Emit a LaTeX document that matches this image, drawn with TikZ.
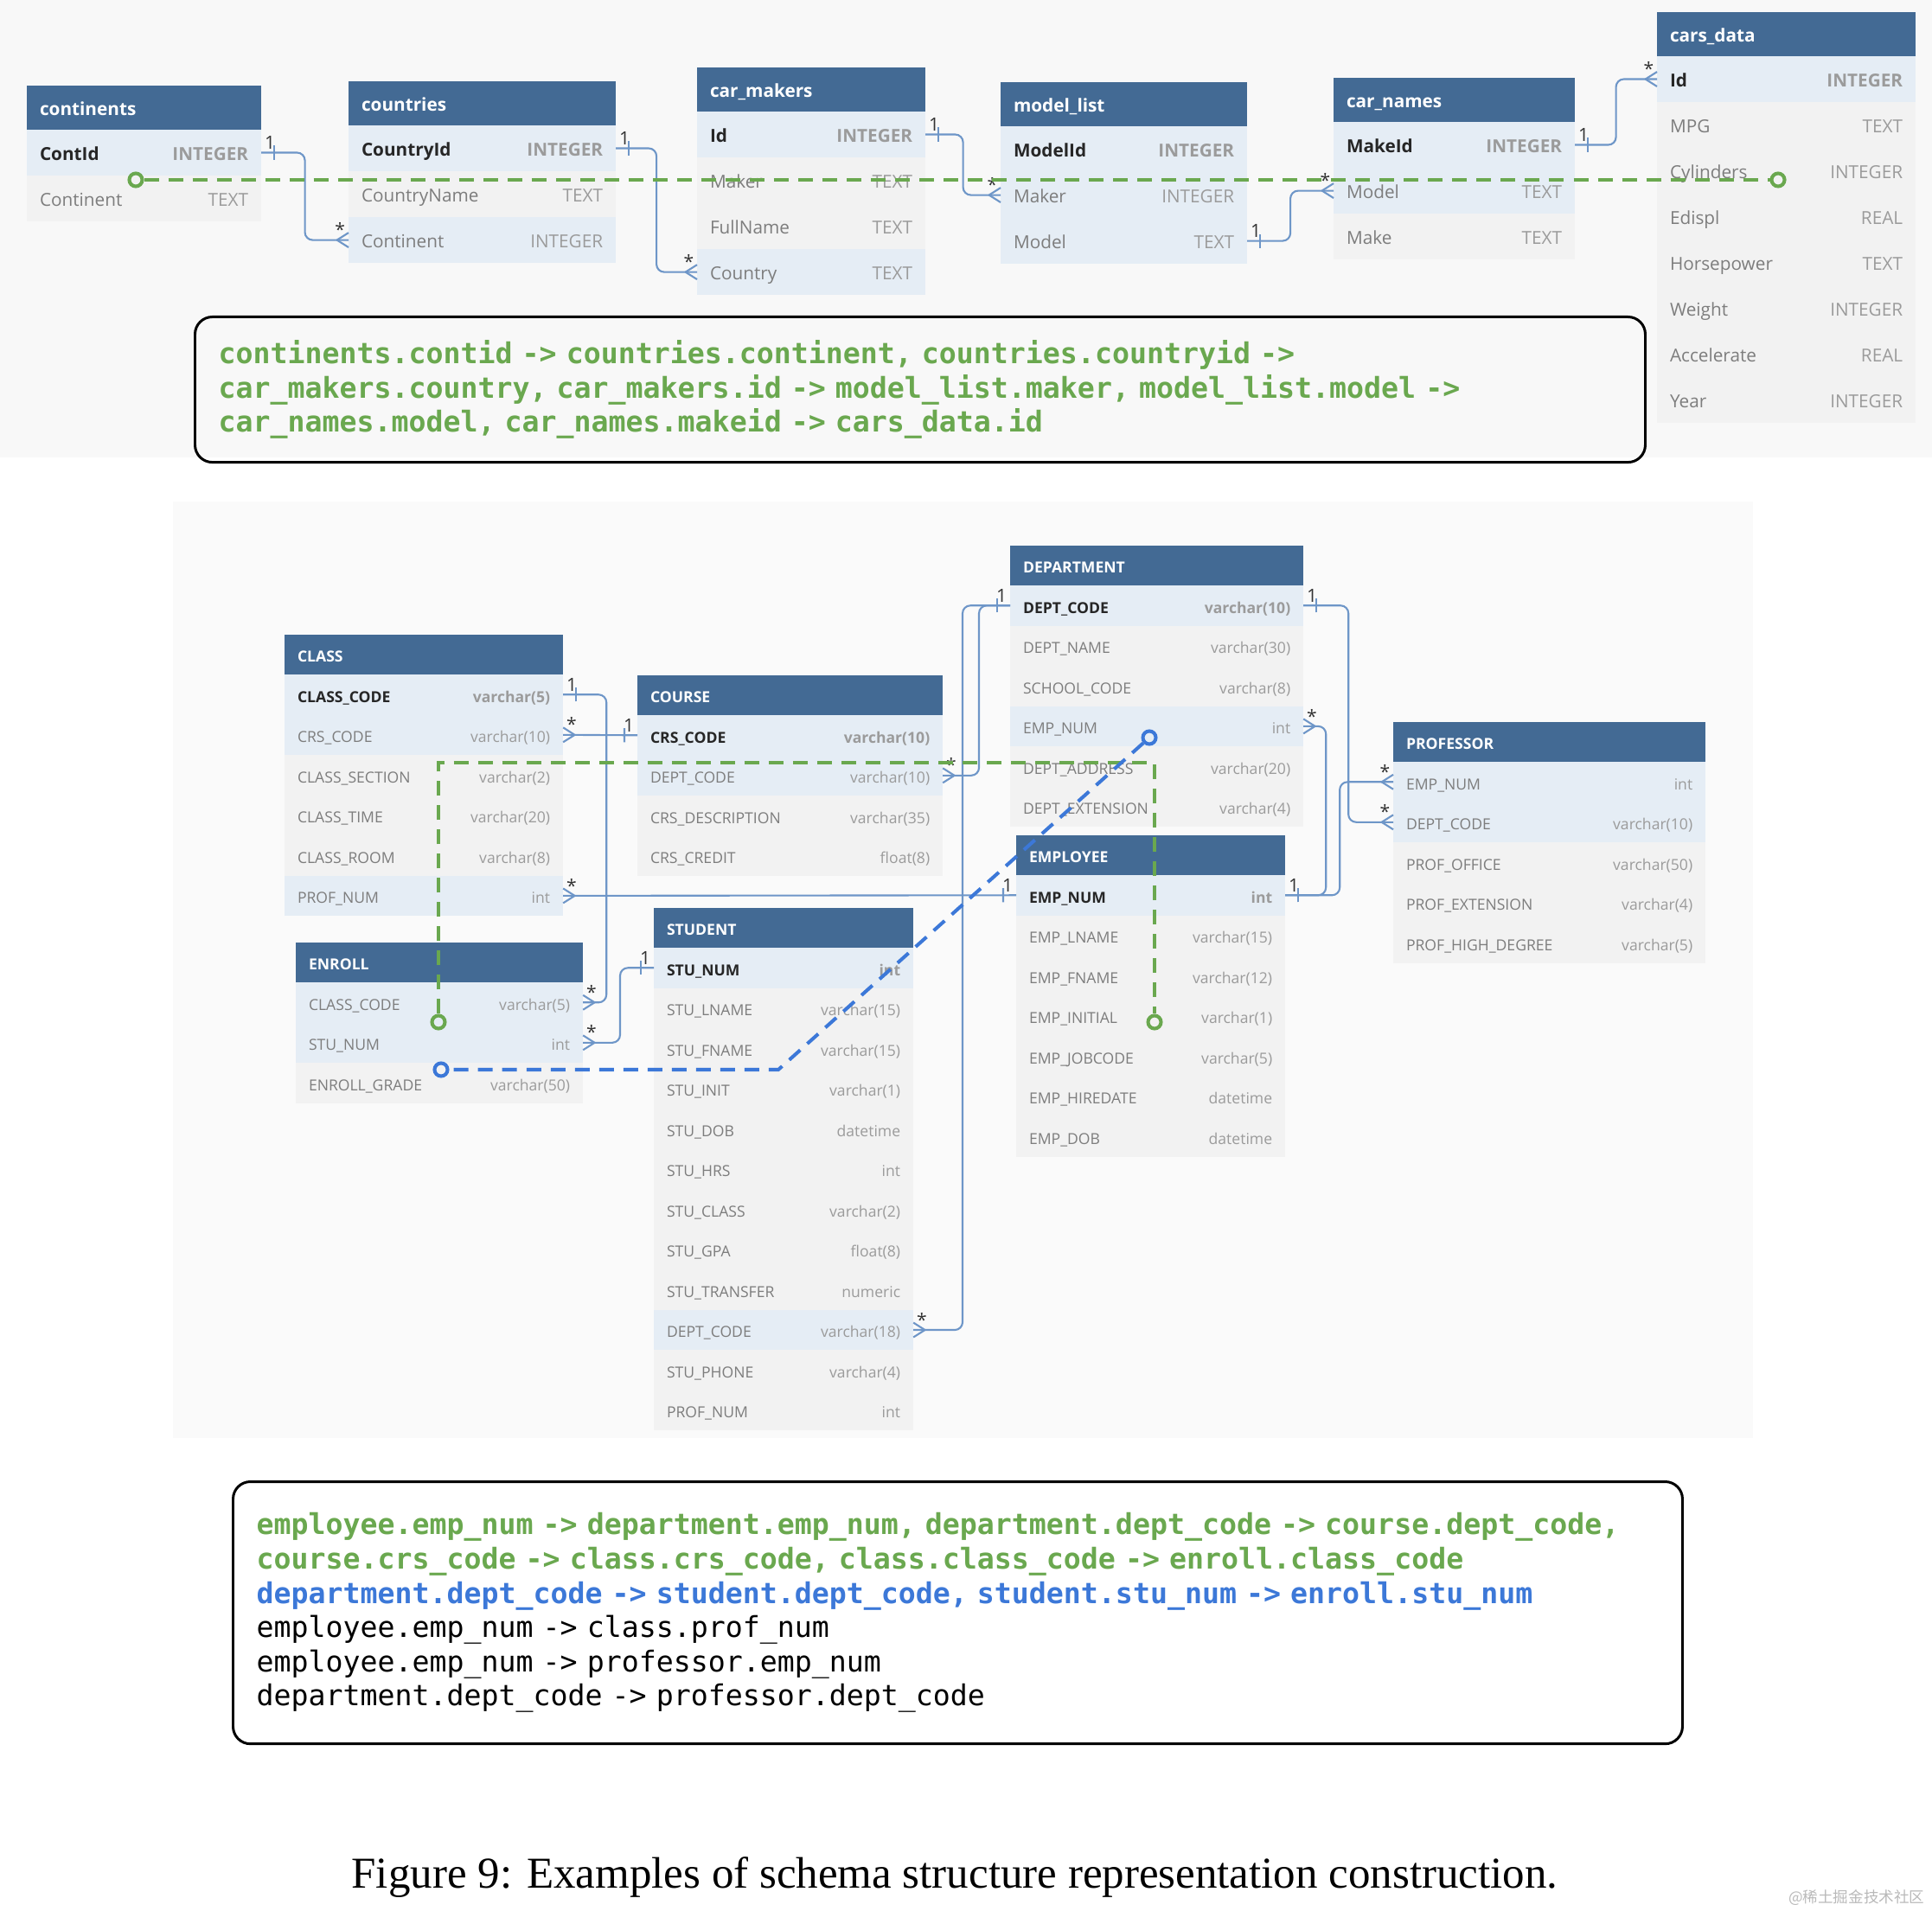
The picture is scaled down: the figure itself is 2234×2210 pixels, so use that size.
\documentclass[tikz,border=0pt]{standalone}
\usepackage{fontspec}
\setmainfont{Liberation Serif}
\newfontfamily\tabfont{Open Sans}
\newfontfamily\codefont{DejaVu Sans Mono}
\newfontfamily\cjkfont{Noto Sans CJK SC}
\usetikzlibrary{positioning,calc,decorations.markings}

\definecolor{hdblue}{RGB}{67,106,148}
\definecolor{keyfill}{RGB}{229,237,245}
\definecolor{colfill}{RGB}{242,242,242}
\definecolor{bandbg}{RGB}{248,248,248}
\definecolor{panelbg}{RGB}{250,250,250}
\definecolor{lnk}{RGB}{110,150,200}
\definecolor{gline}{RGB}{106,168,79}
\definecolor{bline}{RGB}{60,120,216}
\definecolor{nmgray}{RGB}{125,125,125}
\definecolor{tygray}{RGB}{155,155,155}

\begin{document}
\begin{tikzpicture}[x=0.01cm, y=-0.01cm,
    rowh/.style={minimum height=0.53cm},
    hdh/.style={minimum height=0.51cm},
    rw/.style={rowh, inner xsep=0.15cm, inner ysep=0pt, outer sep=0pt,
        text height=0.72em, text depth=0.22em, text=nmgray},
    key/.style={rw, fill=keyfill, text=black!85, execute at begin node=\bfseries},
    fk/.style={rw, fill=keyfill},
    col/.style={rw, fill=colfill},
    hd/.style={hdh, fill=hdblue, text=white, anchor=north west, inner xsep=0.15cm,
        inner ysep=0pt, outer sep=0pt, text height=0.72em, text depth=0.22em,
        execute at begin node=\bfseries},
    lab/.style={font=\tabfont\fontsize{6}{6}\selectfont, text=black!80, inner sep=0.8pt},
    rel/.style={draw=lnk, line width=0.6pt, rounded corners=0.09cm, postaction={decorate},
        decoration={markings,
            mark=at position 0.15cm with {\draw[lnk, line width=0.6pt] (0pt,-2.3pt) -- (0pt,2.3pt);},
            mark=at position 1 with {\draw[lnk, line width=0.6pt] (-3.8pt,0pt) -- (0pt,2.4pt) (-3.8pt,0pt) -- (0pt,-2.4pt);}}},
    gdash/.style={draw=gline, line width=1.15pt, dash pattern=on 0.17cm off 0.11cm},
    bdash/.style={draw=bline, line width=1.15pt, dash pattern=on 0.17cm off 0.11cm},
    gring/.style={circle, draw=gline, line width=1.15pt, minimum size=0.15cm, inner sep=0pt},
    bring/.style={circle, draw=bline, line width=1.15pt, minimum size=0.15cm, inner sep=0pt},
    codebox/.style={draw=black, line width=0.85pt, rounded corners=0.2cm, anchor=north west,
        inner xsep=0.27cm, align=left, font=\codefont\fontsize{9.45}{11.25}\selectfont}
]
\useasboundingbox (0,0) rectangle (2234,2210);
\fill[bandbg] (0,0) rectangle (2234,529);
\fill[panelbg] (200,580) rectangle (2027,1663);

% cars schema
\begin{scope}[font=\tabfont\fontsize{5.9}{7}\selectfont]
\node[hd, text width=2.41cm] (ct-0) at (31,99) {continents};
\foreach \nm/\ty/\st [count=\i, remember=\i as \j (initially 0)] in
    {ContId/INTEGER/key, Continent/TEXT/col}
    \node[\st, text width=2.41cm, below=0pt of ct-\j] (ct-\i) {\nm\hfill\textcolor{tygray}{\ty}};

\node[hd, text width=2.79cm] (cn-0) at (403,94) {countries};
\foreach \nm/\ty/\st [count=\i, remember=\i as \j (initially 0)] in
    {CountryId/INTEGER/key, CountryName/TEXT/col, Continent/INTEGER/fk}
    \node[\st, text width=2.79cm, below=0pt of cn-\j] (cn-\i) {\nm\hfill\textcolor{tygray}{\ty}};

\node[hd, text width=2.34cm] (mk-0) at (806,78) {car\_makers};
\foreach \nm/\ty/\st [count=\i, remember=\i as \j (initially 0)] in
    {Id/INTEGER/key, Maker/TEXT/col, FullName/TEXT/col, Country/TEXT/fk}
    \node[\st, text width=2.34cm, below=0pt of mk-\j] (mk-\i) {\nm\hfill\textcolor{tygray}{\ty}};

\node[hd, text width=2.55cm] (ml-0) at (1157,95) {model\_list};
\foreach \nm/\ty/\st [count=\i, remember=\i as \j (initially 0)] in
    {ModelId/INTEGER/key, Maker/INTEGER/fk, Model/TEXT/fk}
    \node[\st, text width=2.55cm, below=0pt of ml-\j] (ml-\i) {\nm\hfill\textcolor{tygray}{\ty}};

\node[hd, text width=2.49cm] (cna-0) at (1542,90) {car\_names};
\foreach \nm/\ty/\st [count=\i, remember=\i as \j (initially 0)] in
    {MakeId/INTEGER/key, Model/TEXT/fk, Make/TEXT/col}
    \node[\st, text width=2.49cm, below=0pt of cna-\j] (cna-\i) {\nm\hfill\textcolor{tygray}{\ty}};

\node[hd, text width=2.69cm] (cd-0) at (1916,14) {cars\_data};
\foreach \nm/\ty/\st [count=\i, remember=\i as \j (initially 0)] in
    {Id/INTEGER/key, MPG/TEXT/col, Cylinders/INTEGER/col, Edispl/REAL/col,
     Horsepower/TEXT/col, Weight/INTEGER/col, Accelerate/REAL/col, Year/INTEGER/col}
    \node[\st, text width=2.69cm, below=0pt of cd-\j] (cd-\i) {\nm\hfill\textcolor{tygray}{\ty}};
\end{scope}

\draw[rel] (ct-1.east) node[lab, above right] {1} -| ($(ct-1.east)!.5!(cn-3.west)$) |- (cn-3.west) node[lab, above left] {*};
\draw[rel] (cn-1.east) node[lab, above right] {1} -| ($(cn-1.east)!.5!(mk-4.west)$) |- (mk-4.west) node[lab, above left] {*};
\draw[rel] (mk-1.east) node[lab, above right] {1} -| ($(mk-1.east)!.5!(ml-2.west)$) |- (ml-2.west) node[lab, above left] {*};
\draw[rel] (ml-3.east) node[lab, above right] {1} -| ($(ml-3.east)!.5!(cna-2.west)$) |- (cna-2.west) node[lab, above left] {*};
\draw[rel] (cna-1.east) node[lab, above right] {1} -| ($(cna-1.east)!.5!(cd-1.west)$) |- (cd-1.west) node[lab, above left] {*};

\node[gring] (tg1) at (157,208) {};
\node[gring] (tg2) at (2056,208) {};
\draw[gdash] (tg1) -- (tg2);

\node[codebox, text width=16.22cm, minimum height=1.68cm] (sq1) at (224,365)
    {\textcolor{gline}{\bfseries continents.contid -> countries.continent, countries.countryid ->}\\
     \textcolor{gline}{\bfseries car\_makers.country, car\_makers.id -> model\_list.maker, model\_list.model ->}\\
     \textcolor{gline}{\bfseries car\_names.model, car\_names.makeid -> cars\_data.id}};

% school schema
\begin{scope}[font=\tabfont\fontsize{5}{6}\selectfont,
    rowh/.style={minimum height=0.465cm}, hdh/.style={minimum height=0.46cm}]
\node[hd, text width=2.92cm] (cl-0) at (329,734) {CLASS};
\foreach \nm/\ty/\st [count=\i, remember=\i as \j (initially 0)] in
    {CLASS\_CODE/varchar(5)/key, CRS\_CODE/varchar(10)/fk, CLASS\_SECTION/varchar(2)/col,
     CLASS\_TIME/varchar(20)/col, CLASS\_ROOM/varchar(8)/col, PROF\_NUM/int/fk}
    \node[\st, text width=2.92cm, below=0pt of cl-\j] (cl-\i) {\nm\hfill\textcolor{tygray}{\ty}};

\node[hd, text width=3.23cm] (co-0) at (737,781) {COURSE};
\foreach \nm/\ty/\st [count=\i, remember=\i as \j (initially 0)] in
    {CRS\_CODE/varchar(10)/key, DEPT\_CODE/varchar(10)/fk, CRS\_DESCRIPTION/varchar(35)/col,
     CRS\_CREDIT/float(8)/col}
    \node[\st, text width=3.23cm, below=0pt of co-\j] (co-\i) {\nm\hfill\textcolor{tygray}{\ty}};

\node[hd, text width=3.09cm] (de-0) at (1168,631) {DEPARTMENT};
\foreach \nm/\ty/\st [count=\i, remember=\i as \j (initially 0)] in
    {DEPT\_CODE/varchar(10)/key, DEPT\_NAME/varchar(30)/col, SCHOOL\_CODE/varchar(8)/col,
     EMP\_NUM/int/fk, DEPT\_ADDRESS/varchar(20)/col, DEPT\_EXTENSION/varchar(4)/col}
    \node[\st, text width=3.09cm, below=0pt of de-\j] (de-\i) {\nm\hfill\textcolor{tygray}{\ty}};

\node[hd, text width=2.81cm] (em-0) at (1175,966) {EMPLOYEE};
\foreach \nm/\ty/\st [count=\i, remember=\i as \j (initially 0)] in
    {EMP\_NUM/int/key, EMP\_LNAME/varchar(15)/col, EMP\_FNAME/varchar(12)/col,
     EMP\_INITIAL/varchar(1)/col, EMP\_JOBCODE/varchar(5)/col, EMP\_HIREDATE/datetime/col,
     EMP\_DOB/datetime/col}
    \node[\st, text width=2.81cm, below=0pt of em-\j] (em-\i) {\nm\hfill\textcolor{tygray}{\ty}};

\node[hd, text width=3.31cm] (pr-0) at (1611,835) {PROFESSOR};
\foreach \nm/\ty/\st [count=\i, remember=\i as \j (initially 0)] in
    {EMP\_NUM/int/fk, DEPT\_CODE/varchar(10)/fk, PROF\_OFFICE/varchar(50)/col,
     PROF\_EXTENSION/varchar(4)/col, PROF\_HIGH\_DEGREE/varchar(5)/col}
    \node[\st, text width=3.31cm, below=0pt of pr-\j] (pr-\i) {\nm\hfill\textcolor{tygray}{\ty}};

\node[hd, text width=3.02cm] (en-0) at (342,1090) {ENROLL};
\foreach \nm/\ty/\st [count=\i, remember=\i as \j (initially 0)] in
    {CLASS\_CODE/varchar(5)/fk, STU\_NUM/int/fk, ENROLL\_GRADE/varchar(50)/col}
    \node[\st, text width=3.02cm, below=0pt of en-\j] (en-\i) {\nm\hfill\textcolor{tygray}{\ty}};

\node[hd, text width=2.70cm] (st-0) at (756,1050) {STUDENT};
\foreach \nm/\ty/\st [count=\i, remember=\i as \j (initially 0)] in
    {STU\_NUM/int/key, STU\_LNAME/varchar(15)/col, STU\_FNAME/varchar(15)/col,
     STU\_INIT/varchar(1)/col, STU\_DOB/datetime/col, STU\_HRS/int/col, STU\_CLASS/varchar(2)/col,
     STU\_GPA/float(8)/col, STU\_TRANSFER/numeric/col, DEPT\_CODE/varchar(18)/fk,
     STU\_PHONE/varchar(4)/col, PROF\_NUM/int/col}
    \node[\st, text width=2.70cm, below=0pt of st-\j] (st-\i) {\nm\hfill\textcolor{tygray}{\ty}};
\end{scope}

\draw[rel] (cl-1.east) node[lab, above right] {1} -- ++(50,0) |- (en-1.east) node[lab, above right] {*};
\draw[rel] (co-1.west) node[lab, above left] {1} -- (cl-2.east) node[lab, above right] {*};
\draw[rel] (de-1.west) node[lab, above left] {1} -- ++(-36,0) |- (co-2.east) node[lab, above right] {*};
\draw[rel] (de-1.west) -- ++(-55,0) |- (st-10.east) node[lab, above right] {*};
\draw[rel] (em-1.west) node[lab, above left] {1} -- (cl-6.east) node[lab, above right] {*};
\draw[rel] (em-1.east) node[lab, above right] {1} -- ++(47,0) |- (de-4.east) node[lab, above right] {*};
\draw[rel] (em-1.east) -- ++(63,0) |- (pr-1.west) node[lab, above left] {*};
\draw[rel] (de-1.east) node[lab, above right] {1} -- ++(52,0) |- (pr-2.west) node[lab, above left] {*};
\draw[rel] (st-1.west) node[lab, above left] {1} -- ++(-39,0) |- (en-2.east) node[lab, above right] {*};

\node[gring] (gc1) at (507,1182) {};
\node[gring] (gc2) at (1335,1182) {};
\coordinate (gk) at (507,882);
\draw[gdash] (gc1) -- (gk) -| (gc2);

\node[bring] (bc1) at (1329,853) {};
\node[bring] (bc2) at (510,1237) {};
\coordinate (bk) at (900,1237);
\draw[bdash] (bc1) -- (bk) -- (bc2);

\node[codebox, text width=16.21cm, minimum height=3.03cm] (sq2) at (268,1712)
    {\textcolor{gline}{\bfseries employee.emp\_num -> department.emp\_num, department.dept\_code -> course.dept\_code,}\\
     \textcolor{gline}{\bfseries course.crs\_code -> class.crs\_code, class.class\_code -> enroll.class\_code}\\
     \textcolor{bline}{\bfseries department.dept\_code -> student.dept\_code, student.stu\_num -> enroll.stu\_num}\\
     employee.emp\_num -> class.prof\_num\\
     employee.emp\_num -> professor.emp\_num\\
     department.dept\_code -> professor.dept\_code};

\node[font=\fontsize{14.5}{16}\selectfont, inner sep=0pt] (cap) at (1104,2171)
    {Figure 9: Examples of schema structure representation construction.};
\node[anchor=east, font=\cjkfont\fontsize{5}{6}\selectfont, text=gray!55, inner sep=0pt] (wm) at (2226,2195)
    {@稀土掘金技术社区};
\end{tikzpicture}
\end{document}
